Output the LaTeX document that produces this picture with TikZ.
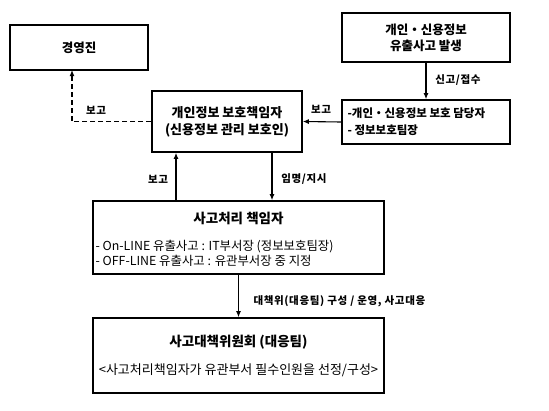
\documentclass[tikz,border=0pt]{standalone}
\usepackage{fontspec}
\setmainfont{Noto Sans CJK KR}
\newfontfamily\notefont{Noto Sans CJK KR}[LetterSpace=6.0]
\usetikzlibrary{arrows.meta}

\begin{document}
\begin{tikzpicture}[x = 1pt, y = -1pt,
	box/.style = {draw, line width = 1.6pt, inner sep = 0pt},
	title/.style = {font = \bfseries\fontsize{12.5}{16}\selectfont, align = center},
	note/.style = {font = \notefont\bfseries\fontsize{10.5}{12}\selectfont},
	body/.style = {font = \fontsize{12.4}{14}\selectfont, anchor = west},
	flow/.style = {-{Latex[length = 6pt, width = 5pt]}, line width = 1.1pt}]
	\useasboundingbox (0,0) rectangle (549,410);
	
	% boxes
	\node[box, title, minimum width = 138pt, minimum height = 45pt] (boss) at (79,47.5) {경영진};
	\node[box, title, minimum width = 168pt, minimum height = 49pt] (leak) at (426,37.5) {개인・신용정보\\유출사고 발생};
	\node[box, minimum width = 168pt, minimum height = 44pt] (staff) at (426,122) {};
	\node[title, font = \bfseries\fontsize{11.5}{17}\selectfont, anchor = west, align = left] (stafftxt) at (344,121.5) {-개인・신용정보 보호 담당자\\- 정보보호팀장};
	\node[box, title, font = \bfseries\fontsize{13}{17}\selectfont, minimum width = 150pt, minimum height = 61pt] (cpo) at (227,121.5) {개인정보 보호책임자\\(신용정보 관리 보호인)};
	
	\node[box, minimum width = 291pt, minimum height = 73pt] (handler) at (238.5,237.5) {};
	\node[title, font = \bfseries\fontsize{13.5}{16}\selectfont] (handlertxt) at (238.5,218) {사고처리 책임자};
	\node[body] (online) at (92,247) {- On-LINE 유출사고 : IT부서장 (정보보호팀장)};
	\node[body] (offline) at (92,261) {- OFF-LINE 유출사고 : 유관부서장 중 지정};
	
	\node[box, minimum width = 291pt, minimum height = 75pt] (team) at (238.5,355.5) {};
	\node[title, font = \bfseries\fontsize{13.5}{16}\selectfont] (teamtxt) at (238.5,342) {사고대책위원회 (대응팀)};
	\node[font = \fontsize{13}{15}\selectfont] (teamsub) at (238.5,370) {<사고처리책임자가 유관부서 필수인원을 선정/구성>};
	
	% arrows
	\coordinate (bossin) at (72,70);
	\coordinate (upx) at (176,0);
	\coordinate (downx) at (272,0);
	\draw[flow, line width = 1.6pt, dashed, dash pattern = on 5pt off 3pt] (cpo.west) -| (bossin);
	\draw[flow] (leak.south) -- (staff.north);
	\draw[flow] (staff.west) -- (cpo.east);
	\draw[flow] (handler.north -| upx) -- (cpo.south -| upx);
	\draw[flow] (cpo.south -| downx) -- (handler.north -| downx);
	\draw[flow] (handler.south) -- (team.north);
	
	% labels
	\node[note] (lbreport1) at (96,110) {보고};
	\node[note] (lbreport2) at (321,109) {보고};
	\node[note] (lbsingo) at (458,80) {신고/접수};
	\node[note] (lbreport3) at (158,179) {보고};
	\node[note] (lbappoint) at (304,179) {임명/지시};
	\node[note, anchor = west] (lbteam) at (250,301) {대책위(대응팀) 구성 / 운영, 사고대응};
	
\end{tikzpicture}
\end{document}
